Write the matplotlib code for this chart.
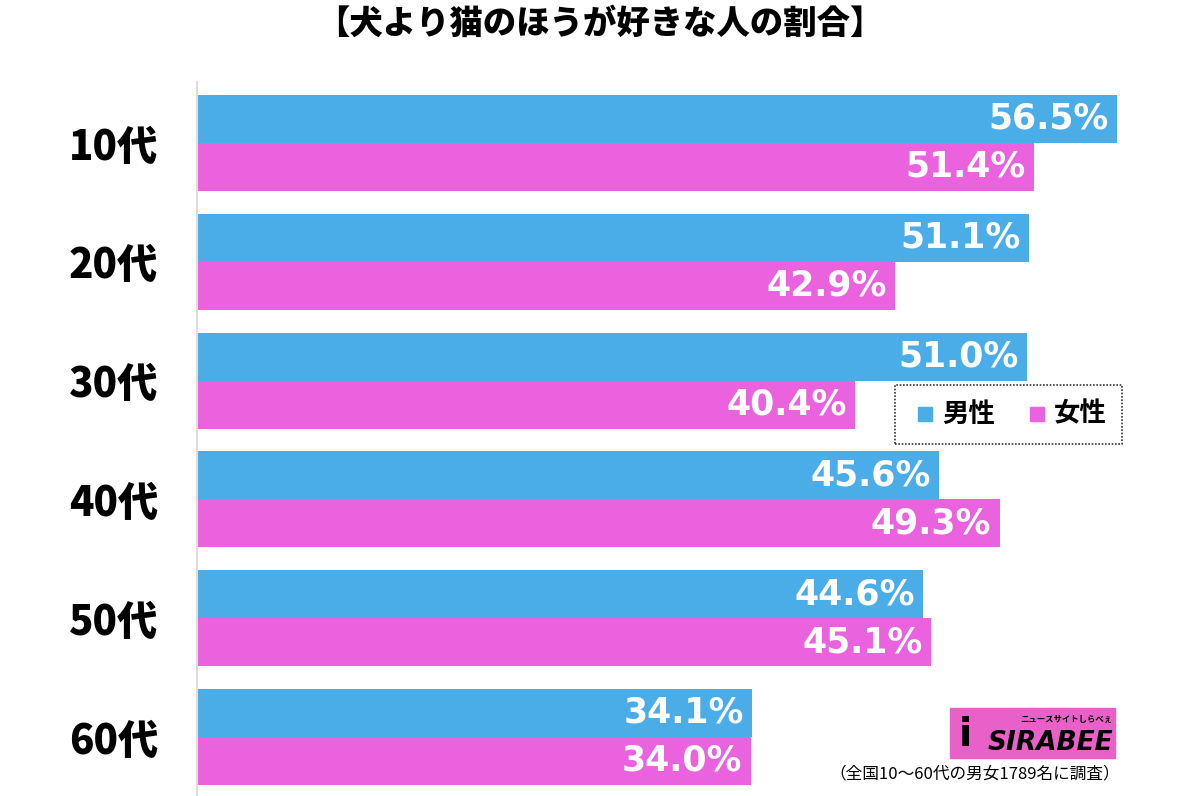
import numpy as np
import matplotlib.pyplot as plt
from matplotlib.patches import Rectangle

plt.rcParams['font.family'] = ['Noto Sans CJK JP', 'DejaVu Sans']

# データ
categories = ['10代', '20代', '30代', '40代', '50代', '60代']
male = [56.5, 51.1, 51.0, 45.6, 44.6, 34.1]
female = [51.4, 42.9, 40.4, 49.3, 45.1, 34.0]
series_names = ['男性', '女性']
title = '【犬より猫のほうが好きな人の割合】'
note = '（全国10〜60代の男女1789名に調査）'

blue = '#4BADE8'
pink = '#EB62DE'

W, H = 1200, 796
fig = plt.figure(figsize=(W / 100, H / 100), dpi=100)
ax = fig.add_axes([197 / W, 0, 1 - 197 / W, 1 - 82 / H])

h = 0.404
y = np.arange(len(categories))
ax.barh(y - h, male, height=h, align='edge', color=blue)
ax.barh(y, female, height=h, align='edge', color=pink)

for i in range(len(categories)):
    for val, yy in ((male[i], y[i] - h / 2), (female[i], y[i] + h / 2)):
        ax.annotate(f'{val:.1f}%', (val, yy), xytext=(-6, 0), textcoords='offset points',
                    ha='right', va='center', color='white', fontsize=25,
                    fontweight='black', family=['DejaVu Sans'])

ax.set_xlim(0, (W - 197) / 16.28)
ax.set_ylim(5.497, -0.513)
ax.set_yticks(y)
ax.set_yticklabels(categories, fontsize=29, fontweight='black')
ax.tick_params(axis='y', length=0, pad=28)
ax.set_xticks([])
for s in ['top', 'right', 'bottom']:
    ax.spines[s].set_visible(False)
ax.spines['left'].set_color('#dddddd')
ax.spines['left'].set_linewidth(1.5)

fig.text(0.5, 1 - 23 / H, title, ha='center', va='center', fontsize=24, fontweight='black')

# 凡例
lx0, ly0, lx1, ly1 = 895, 385, 1122, 444
fig.patches.append(Rectangle((lx0 / W, 1 - ly1 / H), (lx1 - lx0) / W, (ly1 - ly0) / H,
                             transform=fig.transFigure, facecolor='white',
                             edgecolor='#333333', linestyle=(0, (1, 1)), linewidth=1.2))
for name, col, x in ((series_names[0], blue, 918), (series_names[1], pink, 1030)):
    fig.patches.append(Rectangle((x / W, 1 - 421 / H), 14 / W, 14 / H,
                                 transform=fig.transFigure, color=col))
    fig.text((x + 24) / W, 1 - 414 / H, name, ha='left', va='center', fontsize=19, fontweight='bold')

# ロゴ
fig.patches.append(Rectangle((950 / W, 1 - 758 / H), 165 / W, 50 / H,
                             transform=fig.transFigure, color='#E860C8'))
fig.text(1112 / W, 1 - 719 / H, 'ニュースサイトしらべぇ', ha='right', va='center',
         fontsize=6, fontweight='bold')
fig.text(1113 / W, 1 - 743 / H, 'SIRABEE', ha='right', va='center',
         fontsize=19, fontweight='black', style='italic', family=['DejaVu Sans'])
fig.text(965 / W, 1 - 735 / H, 'i', ha='center', va='center',
         fontsize=28, fontweight='black', family=['DejaVu Sans'])

fig.text(1120 / W, 1 - 774 / H, note, ha='right', va='center', fontsize=12)

fig.savefig('out.png', dpi=100)
